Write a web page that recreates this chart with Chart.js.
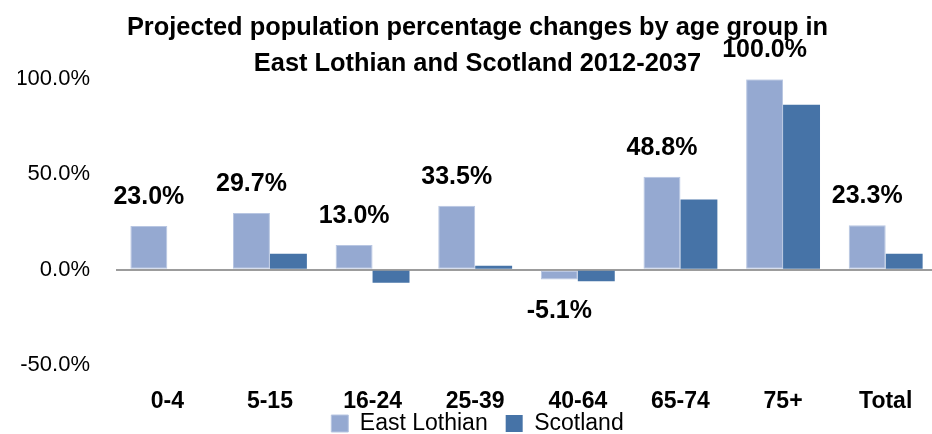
<!DOCTYPE html>
<html>
<head>
<meta charset="utf-8">
<script src="https://cdn.jsdelivr.net/npm/chart.js@4.4.1/dist/chart.umd.min.js"></script>
<style>
  html, body { margin: 0; padding: 0; background: #ffffff; overflow: hidden; }
  canvas { display: block; }
</style>
</head>
<body>
<canvas id="c" width="952" height="434"></canvas>
<script>
const categories = ['0-4', '5-15', '16-24', '25-39', '40-64', '65-74', '75+', 'Total'];
const eastLothian = [23.0, 29.7, 13.0, 33.5, -5.1, 48.8, 100.0, 23.3];
const scotland = [-0.5, 8.4, -6.8, 2.1, -6.0, 36.8, 86.5, 8.4];
const yTicks = [-50, 0, 50, 100];
const titleLines = ['Projected population percentage changes by age group in', 'East Lothian and Scotland 2012-2037'];

const FONT = "'Liberation Sans', Arial, sans-serif";

const dataLabels = {
  id: 'dataLabels',
  afterDatasetsDraw(chart) {
    const ctx = chart.ctx;
    const meta = chart.getDatasetMeta(0);
    ctx.save();
    ctx.font = 'bold 25px ' + FONT;
    ctx.fillStyle = '#000000';
    ctx.textAlign = 'center';
    ctx.textBaseline = 'middle';
    meta.data.forEach((bar, i) => {
      const v = chart.data.datasets[0].data[i];
      const y = v >= 0 ? bar.y - 29 : bar.y + 32;
      ctx.fillText(v.toFixed(1) + '%', bar.x, y);
    });
    ctx.restore();
  }
};

new Chart(document.getElementById('c'), {
  type: 'bar',
  data: {
    labels: categories,
    datasets: [
      { label: 'East Lothian', data: eastLothian, backgroundColor: '#95A9D1', borderColor: '#B8C6E2', borderWidth: 1, borderSkipped: false },
      { label: 'Scotland', data: scotland, backgroundColor: '#4673A7', borderColor: '#4673A7', borderWidth: 0 }
    ]
  },
  options: {
    responsive: false,
    animation: false,
    layout: { padding: { left: 18, right: 15, top: 0, bottom: -11 } },
    datasets: { bar: { barPercentage: 1.0, categoryPercentage: 0.72 } },
    plugins: {
      title: {
        display: true,
        text: titleLines,
        color: '#000000',
        font: { family: FONT, size: 25.4, weight: 'bold', lineHeight: 1.42 },
        padding: { top: 10, bottom: -3 }
      },
      legend: {
        position: 'bottom',
        labels: {
          color: '#000000',
          font: { family: FONT, size: 23 },
          boxWidth: 17,
          boxHeight: 17,
          padding: 18
        }
      },
      tooltip: { enabled: false }
    },
    scales: {
      x: {
        grid: { display: false },
        border: { display: false },
        ticks: { color: '#000000', font: { family: FONT, size: 23, weight: 'bold' }, padding: 15, maxRotation: 0, autoSkip: false },
        afterFit(scale) {
          scale.height = 29;
          scale._computeLabelArea = function () { return undefined; };
        }
      },
      y: {
        min: -50,
        max: 100,
        afterBuildTicks(scale) { scale.ticks = yTicks.map(v => ({ value: v })); },
        grid: {
          color: (c) => (c.tick && c.tick.value === 0 ? '#9C9C9C' : 'rgba(0,0,0,0)'),
          lineWidth: 2,
          drawTicks: false
        },
        border: { display: false },
        ticks: {
          color: '#000000',
          font: { family: FONT, size: 22 },
          padding: 26,
          callback: (v) => Number(v).toFixed(1) + '%'
        },
        afterFit(scale) { scale.width = 98; }
      }
    }
  },
  plugins: [dataLabels]
});
</script>
</body>
</html>
